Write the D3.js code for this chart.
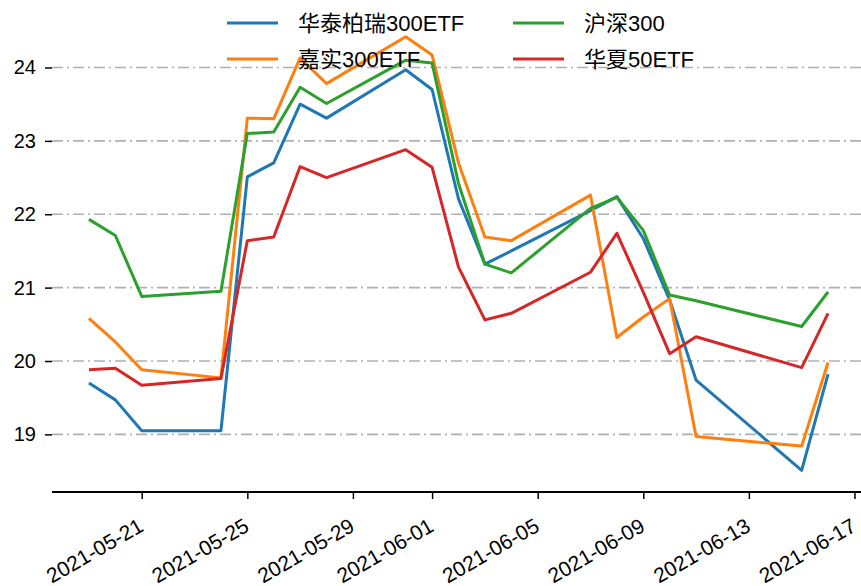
<!DOCTYPE html>
<html>
<head>
<meta charset="utf-8">
<script src="https://cdn.jsdelivr.net/npm/d3@7"></script>
<style>
    body { margin: 0; background: #fff; }
    svg { display: block; }
    text { font-family: "Liberation Sans", "Noto Sans CJK SC", sans-serif; fill: #000; }
</style>
</head>
<body>
<svg id="chart" width="861" height="586"></svg>
<script>
// trading days
const dates = ['2021-05-19', '2021-05-20', '2021-05-21', '2021-05-24', '2021-05-25', '2021-05-26',
    '2021-05-27', '2021-05-28', '2021-05-31', '2021-06-01', '2021-06-02', '2021-06-03',
    '2021-06-04', '2021-06-07', '2021-06-08', '2021-06-09', '2021-06-10', '2021-06-11',
    '2021-06-15', '2021-06-16'];

const huatai300 = [19.70, 19.47, 19.05, 19.05, 22.51, 22.70, 23.50, 23.31, 23.97, 23.70,
    22.21, 21.32, 21.50, 22.05, 22.24, 21.67, 20.83, 19.74, 18.51, 19.82];
const jiashi300 = [20.58, 20.26, 19.88, 19.77, 23.31, 23.30, 24.13, 23.78, 24.42, 24.17,
    22.70, 21.69, 21.64, 22.26, 20.32, 20.60, 20.85, 18.97, 18.84, 19.98];
const hs300 = [21.93, 21.71, 20.88, 20.95, 23.10, 23.12, 23.73, 23.51, 24.10, 24.06,
    22.42, 21.32, 21.20, 22.08, 22.23, 21.78, 20.90, 20.82, 20.47, 20.94];
const huaxia50 = [19.88, 19.90, 19.67, 19.76, 21.64, 21.69, 22.65, 22.50, 22.88, 22.64,
    21.28, 20.56, 20.65, 21.21, 21.74, 20.94, 20.10, 20.33, 19.91, 20.65];

const seriesNames = ['华泰柏瑞300ETF', '嘉实300ETF', '沪深300', '华夏50ETF'];
const xTickLabels = ['2021-05-21', '2021-05-25', '2021-05-29', '2021-06-01',
    '2021-06-05', '2021-06-09', '2021-06-13', '2021-06-17'];
const yTickValues = [19, 20, 21, 22, 23, 24];

const colors = ['#1f77b4', '#ff7f0e', '#2ca02c', '#d62728'];
const parse = d3.utcParse('%Y-%m-%d');

const series = [huatai300, jiashi300, hs300, huaxia50].map((vals, i) => ({
    name: seriesNames[i],
    color: colors[i],
    values: vals.map((v, j) => ({ date: parse(dates[j]), value: v }))
}));

const svg = d3.select('#chart');
const plot = {left: 52, right: 865, top: 15, bottom: 492};

// 5% margins like matplotlib
const xExt = d3.extent(dates, parse);
const xPad = (xExt[1] - xExt[0]) * 0.05;
const x = d3.scaleUtc()
    .domain([new Date(+xExt[0] - xPad), new Date(+xExt[1] + xPad)])
    .range([plot.left, plot.right]);

const allVals = [].concat(huatai300, jiashi300, hs300, huaxia50);
const yExt = d3.extent(allVals);
const yPad = (yExt[1] - yExt[0]) * 0.05;
const y = d3.scaleLinear()
    .domain([yExt[0] - yPad, yExt[1] + yPad])
    .range([plot.bottom, plot.top]);

// grid
svg.append('g')
    .selectAll('line')
    .data(yTickValues)
    .enter().append('line')
    .attr('x1', plot.left)
    .attr('x2', plot.right)
    .attr('y1', d => y(d))
    .attr('y2', d => y(d))
    .attr('stroke', '#b0b0b0')
    .attr('stroke-width', 1.6)
    .attr('stroke-dasharray', '11,4,2,4');

// y axis (no spine)
const yAxis = svg.append('g')
    .attr('transform', `translate(${plot.left},0)`)
    .call(d3.axisLeft(y).tickValues(yTickValues).tickSize(7).tickPadding(9).tickFormat(d3.format('d')));
yAxis.select('.domain').remove();
yAxis.selectAll('line').attr('stroke', '#000').attr('stroke-width', 1.5);
yAxis.selectAll('text').style('font-size', '20px').attr('fill', '#000');

// x axis
const xAxis = svg.append('g')
    .attr('transform', `translate(0,${plot.bottom})`)
    .call(d3.axisBottom(x).tickValues(xTickLabels.map(parse)).tickSize(7).tickFormat(d3.utcFormat('%Y-%m-%d')));
xAxis.select('.domain').attr('d', `M${plot.left},0H${plot.right}`).attr('stroke', '#000').attr('stroke-width', 1.8);
xAxis.selectAll('line').attr('stroke', '#000').attr('stroke-width', 1.5);
xAxis.selectAll('text')
    .style('font-size', '21px')
    .attr('fill', '#000')
    .attr('text-anchor', 'end')
    .attr('x', 0)
    .attr('y', 0)
    .attr('dy', '0.72em')
    .attr('transform', 'translate(-5,25) rotate(-30)');

// lines
const line = d3.line()
    .x(d => x(d.date))
    .y(d => y(d.value));

svg.append('g')
    .selectAll('path')
    .data(series)
    .enter().append('path')
    .attr('d', d => line(d.values))
    .attr('fill', 'none')
    .attr('stroke', d => d.color)
    .attr('stroke-width', 3)
    .attr('stroke-linejoin', 'round');

// legend, 2 columns
const legend = svg.append('g');
const legendItems = legend.selectAll('g')
    .data(series)
    .enter().append('g')
    .attr('transform', (d, i) => `translate(${Math.floor(i / 2) === 0 ? 227 : 513},${i % 2 === 0 ? 23 : 59})`);

legendItems.append('line')
    .attr('x1', 0)
    .attr('x2', 51)
    .attr('stroke', d => d.color)
    .attr('stroke-width', 3);

legendItems.append('text')
    .attr('x', 71)
    .attr('dy', '0.36em')
    .style('font-size', '22px')
    .text(d => d.name);
</script>
</body>
</html>
